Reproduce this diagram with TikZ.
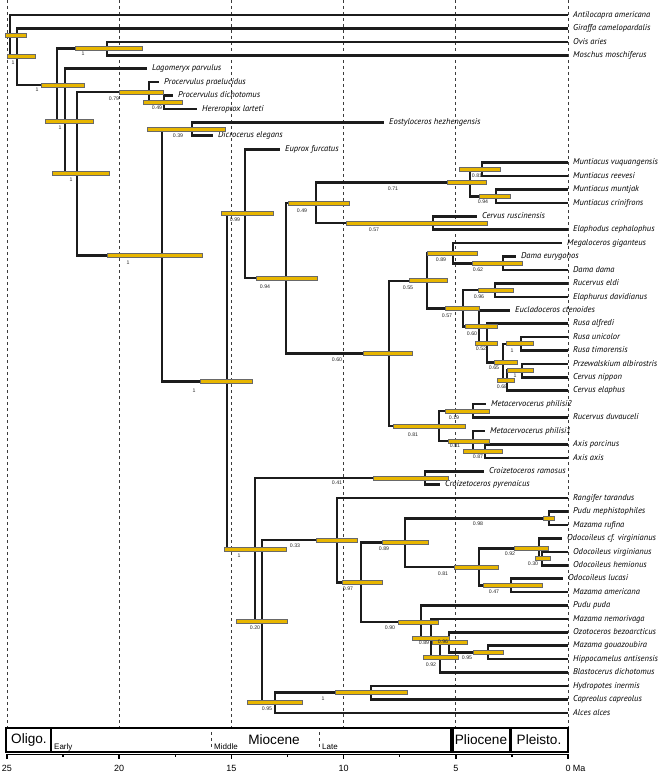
\documentclass[tikz,border=0pt]{standalone}
\usepackage{fontspec}
\setmainfont{Liberation Sans}
\newfontfamily\taxfont{PT Sans}
\usetikzlibrary{positioning}
\definecolor{Branch}{RGB}{28,28,28}
\definecolor{Hpd}{RGB}{232,182,0}
\definecolor{HpdEdge}{RGB}{105,105,105}
\definecolor{Grid}{RGB}{60,60,60}

% clade: name/x/y/bar from/bar to/support/label x/label y
\def\cladelist{root/10/35.8/5/26//0/0, B/17/56.65/7/35/1/13/63, C/57/84.9/41/84/1/37/90,
  D/107/48.55/75/142/1/83/54, E/65/121.25/45/93/1/60/128, F/77/173.8/52/109/1/71/180,
  G/149/92.15/119/163/0.79/114/99, H/164/102.2/143/182/0.49/157/108,
  I/162/255.4/107/202/1/128/263, J/192/129.1/147/225/0.39/178/136,
  K/227/381.7/200/252/1/194/391, L/245/213.7/221/273/0.99/235/220,
  M/286/278.15/256/317/0.94/265/287, N/316/202.9/288/349/0.49/302/211,
  O/470/182.75/447/486/0.71/393/189, P/482/169.3/459/500/0.81/477/176,
  Q/496/196.2/479/510/0.94/483/202, R/433/223.0/346/487/0.57/374/230,
  S/389/353.4/363/412/0.60/337/360, T/427/280.8/409/447/0.55/408/288,
  U/453/253.2/427/477/0.89/441/260, V/503/263.3/472/522/0.62/478/270,
  W/463/308.35/445/479/0.57/447/316, X/495/290.1/478/513/0.96/479/297,
  Y/479/326.6/465/497/0.60/472/334, Z/487/342.95/475/497/0.52/481/349,
  AA/503/362.25/494/517/0.65/494/368, AB/521/343.8/506/533/1/512/351,
  AC/507/380.7/497/514/0.68/502/387, AD/522/370.6/507/533/1/515/376,
  AE/439/426.0/393/465/0.81/413/435, AF/473/410.9/445/489/0.19/454/418,
  AG/473/441.1/448/489/0.81/455/446, AH/485/451.15/463/502/0.87/478/457,
  CR/425/478.0/373/448/0.41/337/483, AI/255/549.7/224/286/1/239/556,
  AJ/262/621.45/236/287/0.20/255/628, AK/337/540.15/316/357/0.33/295/546,
  AM/361/582.2/342/382/0.97/348/589, AN/405/542.6/382/428/0.89/384/549,
  AO/549/518.25/543/554/0.98/478/524, AP/479/566.9/454/498/0.81/443/574,
  AQ/539/548.45/514/548/0.92/510/554, AR/542/558.5/535/550/0.30/533/564,
  AS/511/585.35/483/542/0.47/494/592, AT/421/621.85/398/438/0.90/390/628,
  NM/431/638.2/412/449/0.89/424/643, OZ/449/642.4/432/467/0.96/443/642,
  BL/440/657.5/423/458/0.92/431/665, GZ/488/652.45/473/503/0.95/467/658,
  HC/371/692.7/335/407/1/323/699, AL/275/702.75/247/302/0.95/267/709}

\begin{document}
\begin{tikzpicture}[x=1pt,y=-1pt,
    branch/.style={draw=Branch,line width=2.6pt},
    hpd/.style={fill=Hpd,draw=HpdEdge,line width=0.7pt},
    taxon/.style={inner sep=0pt,text height=6pt,text depth=1.6pt,
      font=\taxfont\itshape\fontsize{8.5}{9}\selectfont},
    support/.style={inner sep=0pt,text=black!85,font=\fontsize{5.2}{6}\selectfont},
    grid line/.style={draw=Grid,line width=0.8pt,dash pattern=on 3pt off 3pt},
    scale box/.style={draw=black,line width=1.7pt},
    epoch/.style={inner sep=0pt,font=\fontsize{13.6}{15}\selectfont},
    subepoch/.style={anchor=base west,inner sep=0pt,font=\fontsize{8}{9}\selectfont},
    tick label/.style={inner sep=1pt,font=\fontsize{9}{10}\selectfont}]

  \useasboundingbox (0,0) rectangle (660,773);

  % time grid
  \foreach \t in {0,5,...,25}
    \draw[grid line] ({568-22.44*\t},0) -- ({568-22.44*\t},728);

  % tips
  \foreach \i/\name/\xe in {
    0/Antilocapra americana/568, 1/Giraffa camelopardalis/568, 2/Ovis aries/568,
    3/Moschus moschiferus/568, 4/Lagomeryx parvulus/147, 5/Procervulus praelucidus/159,
    6/Procervulus dichotomus/173, 7/Hereroprox larteti/197,
    8/Eostyloceros hezhengensis/384, 9/Dicrocerus elegans/213, 10/Euprox furcatus/280,
    11/Muntiacus vuquangensis/568, 12/Muntiacus reevesi/568, 13/Muntiacus muntjak/568,
    14/Muntiacus crinifrons/568, 15/Cervus ruscinensis/477, 16/Elaphodus cephalophus/568,
    17/Megaloceros giganteus/562, 18/Dama eurygonos/516, 19/Dama dama/568,
    20/Rucervus eldi/568, 21/Elaphurus davidianus/568, 22/Eucladoceros ctenoides/510,
    23/Rusa alfredi/568, 24/Rusa unicolor/568, 25/Rusa timorensis/568,
    26/Przewalskium albirostris/568, 27/Cervus nippon/568, 28/Cervus elaphus/568,
    29/Metacervocerus philisi2/486, 30/Rucervus duvauceli/568,
    31/Metacervocerus philisi1/485, 32/Axis porcinus/568, 33/Axis axis/568,
    34/Croizetoceros ramosus/484, 35/Croizetoceros pyrenaicus/440,
    36/Rangifer tarandus/568, 37/Pudu mephistophiles/568, 38/Mazama rufina/568,
    39/Odocoileus cf. virginianus/562, 40/Odocoileus virginianus/568,
    41/Odocoileus hemionus/568, 42/Odocoileus lucasi/563, 43/Mazama americana/568,
    44/Pudu puda/568, 45/Mazama nemorivaga/568, 46/Ozotoceros bezoarcticus/568,
    47/Mazama gouazoubira/568, 48/Hippocamelus antisensis/568,
    49/Blastocerus dichotomus/568, 50/Hydropotes inermis/568,
    51/Capreolus capreolus/568, 52/Alces alces/568}
  {
    \coordinate (l\i) at (\xe,{15+13.42*\i});
    \node[taxon,right=5pt of l\i] (t\i) {\name};
  }

  % internal nodes
  \foreach \n/\x/\y/\a/\b/\s/\lx/\ly in \cladelist
    \coordinate (\n) at (\x,\y);

  \foreach \p/\c in {root/l0, root/B, B/l1, B/C, C/D, C/E, D/l2, D/l3, E/l4, E/F,
    F/G, F/I, G/l5, G/H, H/l6, H/l7, I/J, I/K, J/l8, J/l9, K/L, K/AI, L/l10, L/M,
    M/N, M/S, N/O, N/R, O/P, O/Q, P/l11, P/l12, Q/l13, Q/l14, R/l15, R/l16,
    S/T, S/AE, T/U, T/W, U/l17, U/V, V/l18, V/l19, W/X, W/Y, X/l20, X/l21,
    Y/l22, Y/Z, Z/l23, Z/AA, AA/AB, AA/AC, AB/l24, AB/l25, AC/AD, AC/l28,
    AD/l26, AD/l27, AE/AF, AE/AG, AF/l29, AF/l30, AG/l31, AG/AH, AH/l32, AH/l33,
    AI/CR, AI/AJ, CR/l34, CR/l35, AJ/AK, AJ/AL, AK/l36, AK/AM, AM/AN, AM/AT,
    AN/AO, AN/AP, AO/l37, AO/l38, AP/AQ, AP/AS, AQ/l39, AQ/AR, AR/l40, AR/l41,
    AS/l42, AS/l43, AT/l44, AT/NM, NM/l45, NM/BL, BL/OZ, BL/l49, OZ/l46, OZ/GZ,
    GZ/l47, GZ/l48, AL/HC, AL/l52, HC/l50, HC/l51}
    \draw[branch] (\p) |- (\c);

  % age bars and support
  \foreach \n/\x/\y/\a/\b/\s/\lx/\ly in \cladelist
  {
    \draw[hpd] (\a,{\y-2}) rectangle (\b,{\y+2});
    \node[support] (s\n) at (\lx,\ly) {\s};
  }

  % geological scale
  \foreach \a/\b in {6/51, 51/451, 453/510, 511/568}
    \draw[scale box] (\a,728) rectangle (\b,752);
  \foreach \x in {211,319}
    \draw[grid line] (\x,732) -- (\x,749);
  \node[epoch] (oligo) at (29,740) {Oligo.};
  \node[epoch] (miocene) at (274,740) {Miocene};
  \node[epoch] (pliocene) at (481,740) {Pliocene};
  \node[epoch] (pleisto) at (539,740) {Pleisto.};
  \node[subepoch] (early) at (54,749) {Early};
  \node[subepoch] (middle) at (214,749) {Middle};
  \node[subepoch] (late) at (322,749) {Late};

  \draw[line width=1.6pt] (6,754.5) -- (568,754.5);
  \foreach \t in {0,5,...,25}
  {
    \draw[line width=1.6pt] ({568-22.44*\t},754) -- ({568-22.44*\t},759);
    \node[tick label] (tk\t) at ({568-22.44*\t},768) {\t};
  }
  \foreach \t in {2.5,7.5,...,22.5}
    \draw[line width=1.4pt] ({568-22.44*\t},754) -- ({568-22.44*\t},757);
  \node[tick label,right=0pt of tk0] (ma) {Ma};
\end{tikzpicture}
\end{document}
